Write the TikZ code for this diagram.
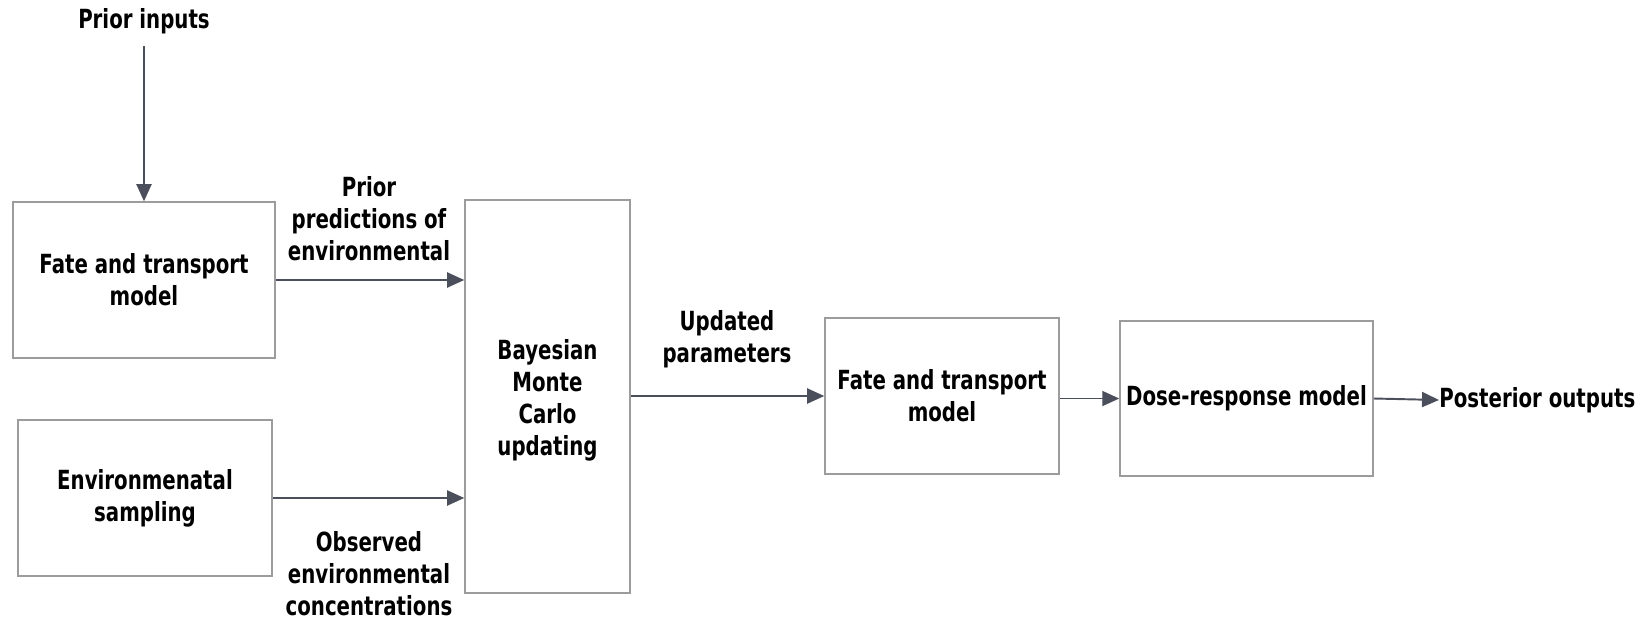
\documentclass[tikz,border=0pt]{standalone}
\usepackage{fontspec}
\setmainfont{DejaVu Sans}[FakeStretch=0.75]
\usetikzlibrary{arrows.meta, positioning}
\definecolor{boxg}{HTML}{9C9C9C}
\definecolor{arrg}{HTML}{4B4F5C}

\begin{document}
\begin{tikzpicture}[x=0.02cm, y=-0.02cm,
        font=\fontsize{15}{18.2}\selectfont\bfseries,
        model/.style={draw=boxg, line width=0.9pt, align=center, inner sep=0pt},
        lbl/.style={align=center, inner sep=0pt},
        flow/.style={draw=arrg, line width=1.1pt, -{Triangle[length=3.4mm, width=3mm]}}
    ]
    \useasboundingbox (0,0) rectangle (1652,622);
    \node[lbl] (prior) at (144,21) {Prior inputs};
    \node[model, minimum width=5.24cm, minimum height=3.12cm] (fate) at (144,280) {Fate and transport\\model};
    \node[model, minimum width=5.08cm, minimum height=3.12cm] (sampling) at (145,498) {Environmenatal\\sampling};
    \node[model, minimum width=3.3cm, minimum height=7.86cm] (bmc) at (547.5,396.5) {};
    \node[lbl] (bmctext) at (547.5,400) {Bayesian\\Monte\\Carlo\\updating};
    \node[model, minimum width=4.68cm, minimum height=3.12cm] (fate2) at (942,396) {Fate and transport\\model};
    \node[model, minimum width=5.06cm, minimum height=3.1cm] (dose) at (1246.5,398.5) {Dose-response model};
    \node[lbl, anchor=west] (post) at (1439,400) {Posterior outputs};

    \node[lbl] (predlbl) at (369,219) {Prior\\predictions of\\environmental};
    \node[lbl] (obslbl) at (369,574) {Observed\\environmental\\concentrations};
    \node[lbl] (updlbl) at (727,339) {Updated\\parameters};

    \draw[flow] (prior.south) ++(0,12) coordinate (p0) -- (p0 |- fate.north);
    \draw[flow] (fate.east) -- (fate.east -| bmc.west);
    \draw[flow] (sampling.east) -- (sampling.east -| bmc.west);
    \draw[flow] (bmc.east |- fate2.west) -- (fate2.west);
    \draw[flow] (fate2.east |- dose.west) -- (dose.west);
    \draw[flow] (dose.east) -- (post.west);
\end{tikzpicture}
\end{document}
